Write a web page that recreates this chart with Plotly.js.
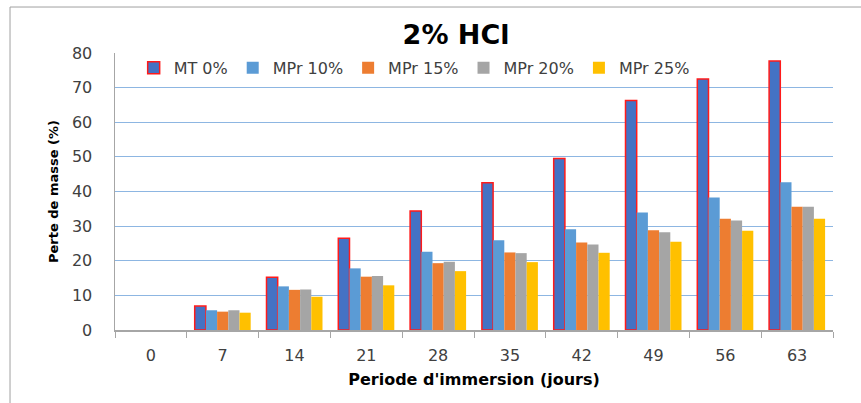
<!DOCTYPE html>
<html>
<head>
<meta charset="utf-8">
<script src="https://cdn.plot.ly/plotly-3.0.1.min.js"></script>
<style>
  html, body { margin: 0; padding: 0; background: #ffffff; }
  #chart { width: 861px; height: 403px; }
</style>
</head>
<body>
<div id="chart"></div>
<script>
// Immersion period (days) and mass loss (%) per mix
const days   = ['0', '7', '14', '21', '28', '35', '42', '49', '56', '63'];
const mt0    = [null, 6.9, 15.2, 26.5, 34.4, 42.5, 49.5, 66.3, 72.5, 77.7];
const mpr10  = [null, 5.7, 12.6, 17.8, 22.6, 25.9, 29.1, 33.9, 38.3, 42.7];
const mpr15  = [null, 5.3, 11.6, 15.4, 19.3, 22.4, 25.3, 28.8, 32.1, 35.6];
const mpr20  = [null, 5.7, 11.7, 15.6, 19.7, 22.2, 24.7, 28.2, 31.6, 35.6];
const mpr25  = [null, 5.0, 9.6, 12.9, 17.0, 19.6, 22.3, 25.5, 28.7, 32.1];
const yTicks = [0, 10, 20, 30, 40, 50, 60, 70, 80];

const FONT = 'DejaVu Sans, Arial, sans-serif';

function series(name, values, color, outline) {
  return {
    type: 'bar',
    name: name,
    x: days,
    y: values,
    marker: {
      color: color,
      line: outline ? { color: outline, width: 1.5 } : { width: 0 }
    },
    hoverinfo: 'x+y+name'
  };
}

const data = [
  series('MT 0%',   mt0,   '#4472C4', '#FF1A1A'),
  series('MPr 10%', mpr10, '#5B9BD5'),
  series('MPr 15%', mpr15, '#ED7D31'),
  series('MPr 20%', mpr20, '#A5A5A5'),
  series('MPr 25%', mpr25, '#FFC000')
];

const layout = {
  width: 861,
  height: 403,
  margin: { l: 115, r: 28, t: 53, b: 73 },
  paper_bgcolor: '#ffffff',
  plot_bgcolor: '#ffffff',
  font: { family: FONT, size: 16, color: '#404040' },
  barmode: 'group',
  bargap: 0.22,
  bargroupgap: 0,
  title: {
    text: '<b>2% HCl</b>',
    font: { family: FONT, size: 27, color: '#000000' },
    x: 0.475, xref: 'paper', xanchor: 'center',
    y: 1 - 35 / 403, yref: 'container', yanchor: 'middle'
  },
  showlegend: true,
  legend: {
    orientation: 'h',
    x: 0.026, xanchor: 'left',
    y: 0.946, yanchor: 'middle',
    bgcolor: 'rgba(0,0,0,0)',
    font: { family: FONT, size: 16, color: '#404040' },
    traceorder: 'normal'
  },
  xaxis: {
    type: 'category',
    tickvals: days,
    ticktext: days,
    tickson: 'boundaries',
    ticks: 'outside',
    ticklen: 6,
    tickcolor: '#A6A6A6',
    showline: true,
    linecolor: '#A6A6A6',
    linewidth: 1.5,
    showgrid: false,
    zeroline: false,
    ticklabelstandoff: 10,
    tickfont: { family: FONT, size: 16, color: '#404040' },
    title: {
      text: "<b>Periode d'immersion (jours)</b>",
      font: { family: FONT, size: 16, color: '#000000' },
      standoff: 10
    },
    fixedrange: true
  },
  yaxis: {
    range: [0, 80],
    tickvals: yTicks,
    ticks: '',
    showline: true,
    linecolor: '#A6A6A6',
    linewidth: 1.5,
    showgrid: true,
    gridcolor: '#8DB6E2',
    gridwidth: 1.2,
    zeroline: false,
    ticklabelstandoff: 18,
    tickfont: { family: FONT, size: 16, color: '#404040' },
    title: {
      text: '<b>Perte de masse (%)</b>',
      font: { family: FONT, size: 13, color: '#000000' },
      standoff: 10
    },
    fixedrange: true
  },
  shapes: [
    // thin frame around the whole chart
    {
      type: 'rect', xref: 'paper', yref: 'paper',
      x0: -0.1462, x1: 1.1, y0: -0.35, y1: 1.166,
      line: { color: '#A0A0A0', width: 1 },
      fillcolor: 'rgba(0,0,0,0)',
      layer: 'below'
    }
  ]
};

Plotly.newPlot('chart', data, layout, { displayModeBar: false, staticPlot: true });
</script>
</body>
</html>
